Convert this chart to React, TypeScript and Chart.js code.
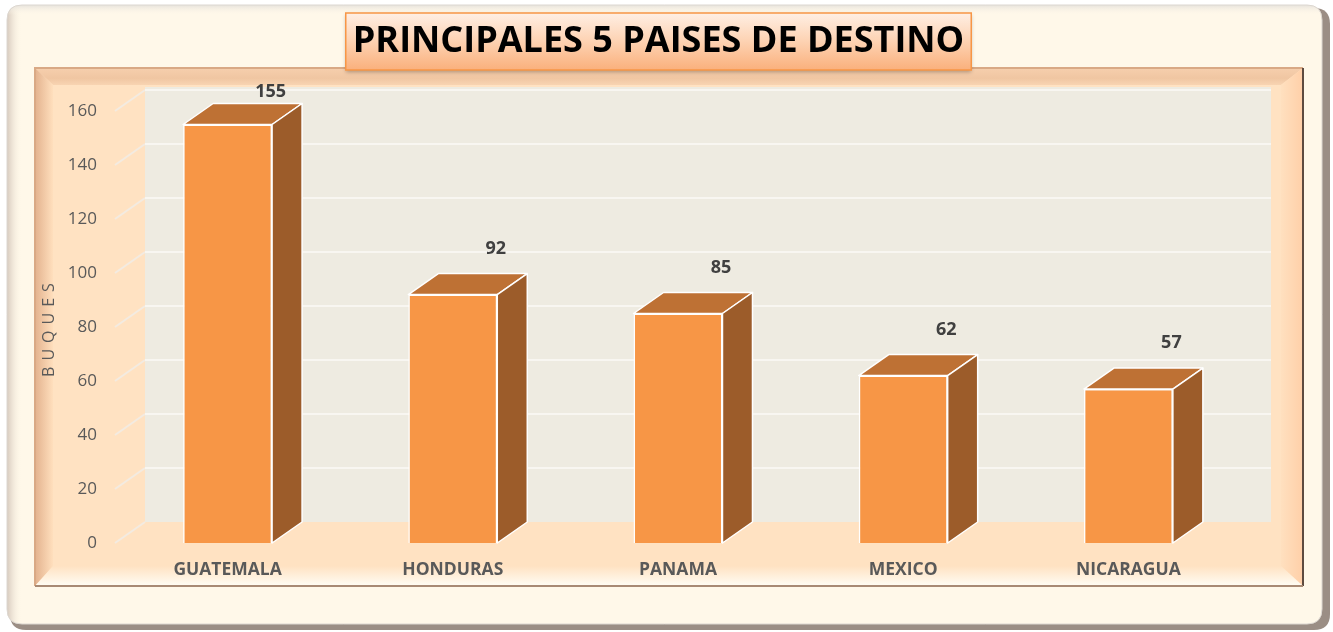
import React, { useEffect, useRef } from 'react';
import { Chart, registerables } from 'chart.js';

Chart.register(...registerables);

// ---- data ----
const categories = ['GUATEMALA', 'HONDURAS', 'PANAMA', 'MEXICO', 'NICARAGUA'];
const buques = [155, 92, 85, 62, 57];
const yMin = 0;
const yMax = 160;
const yStep = 20;
const titleText = 'PRINCIPALES 5 PAISES DE DESTINO';
const yAxisTitle = 'BUQUES';

// ---- style ----
const FONT = "'Open Sans', sans-serif";
const TITLE_SIZE = 36;
const DX = 30;
const DY = -21;

function rrect(ctx: CanvasRenderingContext2D, x: number, y: number, w: number, h: number, r: number) {
  ctx.beginPath();
  ctx.moveTo(x + r, y);
  ctx.lineTo(x + w - r, y);
  ctx.quadraticCurveTo(x + w, y, x + w, y + r);
  ctx.lineTo(x + w, y + h - r);
  ctx.quadraticCurveTo(x + w, y + h, x + w - r, y + h);
  ctx.lineTo(x + r, y + h);
  ctx.quadraticCurveTo(x, y + h, x, y + h - r);
  ctx.lineTo(x, y + r);
  ctx.quadraticCurveTo(x, y, x + r, y);
  ctx.closePath();
}

function poly(ctx: CanvasRenderingContext2D, pts: number[][], fill: any) {
  ctx.beginPath();
  ctx.moveTo(pts[0][0], pts[0][1]);
  for (let i = 1; i < pts.length; i++) ctx.lineTo(pts[i][0], pts[i][1]);
  ctx.closePath();
  ctx.fillStyle = fill;
  ctx.fill();
}

const decoPlugin = {
  id: 'deco3d',
  beforeDraw(chart: any) {
    const ctx: CanvasRenderingContext2D = chart.ctx;
    const W = chart.width;
    const H = chart.height;
    // letter spacing for the y-axis title
    const ys: any = chart.scales.y;
    if (ys && !ys.__ls) {
      const orig = ys.drawTitle;
      ys.drawTitle = function (...a: any[]) {
        const c: any = this.ctx;
        c.save();
        c.letterSpacing = '6px';
        orig.apply(this, a);
        c.restore();
      };
      ys.__ls = true;
    }
    ctx.save();
    ctx.fillStyle = '#ffffff';
    ctx.fillRect(0, 0, W, H);
    // outer frame shadow + body
    rrect(ctx, 10, 8, W - 13, H - 10, 16);
    ctx.fillStyle = '#9b8e85';
    ctx.fill();
    rrect(ctx, 7, 5, W - 18, H - 13, 15);
    ctx.fillStyle = '#fff8e9';
    ctx.fill();
    ctx.save();
    ctx.clip();
    let g = ctx.createLinearGradient(7, 0, 22, 0);
    g.addColorStop(0, '#d6c9bd');
    g.addColorStop(1, 'rgba(255,248,233,0)');
    ctx.fillStyle = g;
    ctx.fillRect(7, 5, 16, H - 13);
    g = ctx.createLinearGradient(0, 5, 0, 15);
    g.addColorStop(0, '#e6e2dc');
    g.addColorStop(1, 'rgba(255,248,233,0)');
    ctx.fillStyle = g;
    ctx.fillRect(7, 5, W - 18, 10);
    ctx.restore();
    rrect(ctx, 7, 5, W - 18, H - 13, 15);
    ctx.strokeStyle = '#dcd7d1';
    ctx.lineWidth = 1;
    ctx.stroke();

    // inner bevelled frame
    const x0 = 35, y0 = 68, x1 = 1303, y1 = 586;
    const bl = 18, bt = 17, br = 22, bb = 20;
    ctx.fillStyle = '#ffe2c2';
    ctx.fillRect(x0, y0, x1 - x0, y1 - y0);
    g = ctx.createLinearGradient(0, y0, 0, y0 + bt);
    g.addColorStop(0, '#f6cfad');
    g.addColorStop(0.6, '#f0c6a2');
    g.addColorStop(1, '#f8d4b2');
    poly(ctx, [[x0, y0], [x1, y0], [x1 - br, y0 + bt], [x0 + bl, y0 + bt]], g);
    g = ctx.createLinearGradient(x0, 0, x0 + bl, 0);
    g.addColorStop(0, '#e3b28e');
    g.addColorStop(1, '#ffdfbd');
    poly(ctx, [[x0, y0], [x0 + bl, y0 + bt], [x0 + bl, y1 - bb], [x0, y1]], g);
    g = ctx.createLinearGradient(x1 - br, 0, x1, 0);
    g.addColorStop(0, '#ffe0bf');
    g.addColorStop(1, '#ffcfa8');
    poly(ctx, [[x1, y0], [x1, y1], [x1 - br, y1 - bb], [x1 - br, y0 + bt]], g);
    g = ctx.createLinearGradient(0, y1 - bb, 0, y1);
    g.addColorStop(0, '#ffe2c2');
    g.addColorStop(1, '#fffdf4');
    poly(ctx, [[x0, y1], [x0 + bl, y1 - bb], [x1 - br, y1 - bb], [x1, y1]], g);
    ctx.lineWidth = 2;
    ctx.strokeStyle = '#d9a985';
    ctx.beginPath();
    ctx.moveTo(x0, y1);
    ctx.lineTo(x0, y0);
    ctx.lineTo(x1, y0);
    ctx.stroke();
    ctx.strokeStyle = '#5e4b40';
    ctx.beginPath();
    ctx.moveTo(x1, y0);
    ctx.lineTo(x1, y1);
    ctx.stroke();
    ctx.strokeStyle = '#a88a74';
    ctx.beginPath();
    ctx.moveTo(x1, y1);
    ctx.lineTo(x0, y1);
    ctx.stroke();

    // back wall + gridlines, from the scales
    const ca = chart.chartArea;
    const yScale = chart.scales.y;
    const wallTop = yScale.getPixelForValue(yMax) + DY - 3;
    const wallBot = yScale.getPixelForValue(yMin) + DY;
    ctx.fillStyle = '#eeebe1';
    ctx.fillRect(ca.left + DX, wallTop, ca.right - ca.left, wallBot - wallTop);
    ctx.lineWidth = 2;
    yScale.ticks.forEach((t: any) => {
      const py = yScale.getPixelForValue(t.value);
      ctx.strokeStyle = '#f3ebe1';
      ctx.beginPath();
      ctx.moveTo(ca.left, py);
      ctx.lineTo(ca.left + DX, py + DY);
      ctx.stroke();
      if (t.value !== yMin) {
        ctx.strokeStyle = '#f8f6f1';
        ctx.beginPath();
        ctx.moveTo(ca.left + DX, py + DY);
        ctx.lineTo(ca.right + DX, py + DY);
        ctx.stroke();
      }
    });

    // title box
    const tb = chart.titleBlock;
    ctx.font = `bold ${TITLE_SIZE}px ${FONT}`;
    const tw = ctx.measureText(titleText).width;
    const cx = tb.left + tb.width / 2;
    const bx = cx - tw / 2 - 7;
    const bw = tw + 14;
    const by = 13, bh = 57;
    ctx.save();
    ctx.shadowColor = 'rgba(0,0,0,0.3)';
    ctx.shadowBlur = 4;
    ctx.shadowOffsetY = 2;
    g = ctx.createLinearGradient(0, by, 0, by + bh);
    g.addColorStop(0, '#ffefe4');
    g.addColorStop(0.5, '#fdd2b2');
    g.addColorStop(1, '#fab07c');
    ctx.fillStyle = g;
    ctx.fillRect(bx, by, bw, bh);
    ctx.restore();
    ctx.strokeStyle = '#f79646';
    ctx.lineWidth = 1.5;
    ctx.strokeRect(bx, by, bw, bh);
    ctx.restore();
  },
  afterDatasetsDraw(chart: any) {
    const ctx: CanvasRenderingContext2D = chart.ctx;
    const ca = chart.chartArea;
    const meta = chart.getDatasetMeta(0);
    ctx.save();
    meta.data.forEach((el: any, i: number) => {
      const { x, y, base, width } = el.getProps(['x', 'y', 'base', 'width'], true);
      const l = x - width / 2;
      const r = x + width / 2;
      ctx.lineWidth = 1.5;
      ctx.strokeStyle = '#ffffff';
      ctx.lineJoin = 'round';
      ctx.beginPath();
      ctx.moveTo(l, y);
      ctx.lineTo(l + DX, y + DY);
      ctx.lineTo(r + DX, y + DY);
      ctx.lineTo(r, y);
      ctx.closePath();
      ctx.fillStyle = '#be7134';
      ctx.fill();
      ctx.stroke();
      ctx.beginPath();
      ctx.moveTo(r, y);
      ctx.lineTo(r + DX, y + DY);
      ctx.lineTo(r + DX, base + DY);
      ctx.lineTo(r, base);
      ctx.closePath();
      ctx.fillStyle = '#9c5c2a';
      ctx.fill();
      ctx.stroke();
      // value label
      ctx.fillStyle = '#404040';
      ctx.font = `bold 18px ${FONT}`;
      ctx.textAlign = 'center';
      ctx.textBaseline = 'middle';
      const ly = Math.max(y - 46, ca.top - 19);
      ctx.fillText(String(buques[i]), x + 43, ly);
    });
    ctx.restore();
  },
};

export default function App() {
  const ref = useRef<HTMLCanvasElement | null>(null);
  useEffect(() => {
    document.body.style.margin = '0';
    const canvas = ref.current;
    if (!canvas) return;
    const chart = new Chart(canvas, {
      type: 'bar',
      data: {
        labels: categories,
        datasets: [
          {
            label: yAxisTitle,
            data: buques,
            backgroundColor: '#f79646',
            borderColor: '#ffffff',
            borderWidth: 1.5,
            categoryPercentage: 1,
            barPercentage: 0.395,
          },
        ],
      },
      options: {
        responsive: false,
        animation: false,
        devicePixelRatio: 1,
        layout: { padding: { left: 0, right: 16, top: 0, bottom: 0 } },
        plugins: {
          legend: { display: false },
          tooltip: { enabled: false },
          title: {
            display: true,
            text: titleText,
            color: '#000000',
            font: { family: FONT, size: TITLE_SIZE, weight: 'bold', lineHeight: 1.2 },
            padding: { top: 20, bottom: 47.8 },
          },
        },
        scales: {
          x: {
            grid: { display: false, drawTicks: false },
            border: { display: false },
            ticks: {
              color: '#595959',
              font: { family: FONT, size: 17.5, weight: 'bold' },
              padding: 17,
              maxRotation: 0,
              autoSkip: false,
            },
            afterFit(s: any) {
              s.height = 89;
            },
          },
          y: {
            min: yMin,
            max: yMax,
            ticks: { stepSize: yStep, color: '#595959', font: { family: FONT, size: 17 }, padding: 18 },
            grid: { display: false, drawTicks: false },
            border: { display: false },
            title: {
              display: true,
              text: yAxisTitle,
              color: '#595959',
              font: { family: FONT, size: 16, lineHeight: 1.2 },
              padding: { top: 40, bottom: 0 },
            },
            afterFit(s: any) {
              s.width = 115;
            },
          },
          y2: {
            type: 'linear',
            position: 'right',
            display: true,
            grid: { display: false, drawTicks: false },
            border: { display: false },
            ticks: { display: false },
            afterFit(s: any) {
              s.width = 76;
            },
          },
        },
      } as any,
      plugins: [decoPlugin],
    });
    return () => chart.destroy();
  }, []);
  return (
    <div style={{ position: 'fixed', left: 0, top: 0, width: 1333, height: 632 }}>
      <canvas ref={ref} width={1333} height={632} style={{ display: 'block' }} />
    </div>
  );
}
